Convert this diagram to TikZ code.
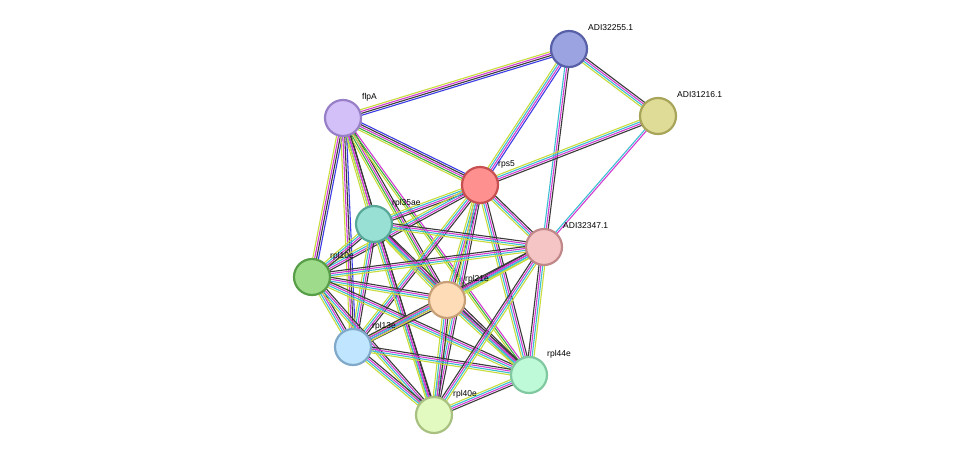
\documentclass[tikz,border=0pt]{standalone}
\usepackage{fontspec}
\setmainfont{Liberation Sans}
\usetikzlibrary{calc}
\definecolor{cTxt}{HTML}{C8DC3C}
\definecolor{cCoe}{HTML}{3A3A3A}
\definecolor{cExp}{HTML}{D23CD2}
\definecolor{cDb}{HTML}{3CBED2}
\definecolor{cNbr}{HTML}{3CB43C}
\definecolor{cOcc}{HTML}{3C3CE6}
\definecolor{f55}{HTML}{9BA4E0}\definecolor{d55}{HTML}{5860A8}
\definecolor{f16}{HTML}{DEDC96}\definecolor{d16}{HTML}{A8A45A}
\definecolor{fflp}{HTML}{D4C0F8}\definecolor{dflp}{HTML}{9880C8}
\definecolor{fs5}{HTML}{FF9090}\definecolor{ds5}{HTML}{C85050}
\definecolor{f35}{HTML}{98E0D4}\definecolor{d35}{HTML}{58A898}
\definecolor{f47}{HTML}{F5C5C5}\definecolor{d47}{HTML}{C08888}
\definecolor{f10}{HTML}{9EDC8C}\definecolor{d10}{HTML}{589E48}
\definecolor{f21}{HTML}{FFDCB8}\definecolor{d21}{HTML}{C8A078}
\definecolor{f13}{HTML}{C0E6FF}\definecolor{d13}{HTML}{80A8C8}
\definecolor{f44}{HTML}{BEFAD8}\definecolor{d44}{HTML}{80C8A0}
\definecolor{f40}{HTML}{E2FAC0}\definecolor{d40}{HTML}{A8C080}
\tikzset{
  prot/.style={circle, minimum size=36pt, inner sep=0, line width=2.2pt, fill=f#1, draw=d#1},
  lbl/.style={anchor=west, inner sep=0, font=\fontsize{8.5}{10}\selectfont},
}
% parallel coloured lines between two nodes
\newcommand\edgeset[4]{%
  \foreach \c [count=\i] in {#4} {%
    \pgfmathsetmacro\off{(\i-(#3+1)/2)*1.9}
    \draw[\c, line width=1.1pt] ($(#1)!\off pt!90:(#2)$) -- ($(#2)!\off pt!-90:(#1)$);
  }}
\begin{document}
\begin{tikzpicture}[x=1pt,y=-1pt]
\useasboundingbox[fill=white] (0,0) rectangle (975,461);
\coordinate (a55) at (569,49);
\coordinate (a16) at (658,116);
\coordinate (flp) at (343,118);
\coordinate (s5) at (480,185);
\coordinate (l35) at (374,224);
\coordinate (a47) at (544,247);
\coordinate (l10) at (312,277);
\coordinate (l21) at (447,300);
\coordinate (l13) at (353,347);
\coordinate (l44) at (529,375);
\coordinate (l40) at (434,415);
% edges
\edgeset{a55}{flp}{4}{cTxt,cExp,cCoe,cOcc}
\edgeset{a55}{s5}{4}{cTxt,cDb,cExp,cOcc}
\edgeset{a55}{a16}{4}{cTxt,cDb,cExp,cCoe}
\edgeset{a55}{a47}{3}{cDb,cExp,cCoe}
\edgeset{a16}{s5}{4}{cTxt,cDb,cExp,cCoe}
\edgeset{a16}{a47}{2}{cDb,cExp}
\edgeset{flp}{s5}{5}{cTxt,cNbr,cExp,cCoe,cOcc}
\edgeset{flp}{l35}{4}{cTxt,cDb,cExp,cCoe}
\edgeset{flp}{l10}{4}{cTxt,cExp,cCoe,cOcc}
\edgeset{flp}{l21}{4}{cTxt,cNbr,cExp,cCoe}
\edgeset{flp}{l13}{4}{cTxt,cExp,cCoe,cOcc}
\edgeset{flp}{l44}{3}{cTxt,cNbr,cExp}
\edgeset{flp}{l40}{3}{cTxt,cExp,cCoe}
\edgeset{s5}{a47}{4}{cTxt,cDb,cExp,cCoe}
\foreach \b in {l35,l10,l21,l13,l44,l40} {\edgeset{s5}{\b}{4}{cTxt,cDb,cExp,cCoe}}
\foreach \b in {a47,l10,l21,l13,l44,l40} {\edgeset{l35}{\b}{4}{cTxt,cDb,cExp,cCoe}}
\foreach \b in {a47,l21,l13,l44,l40} {\edgeset{l10}{\b}{4}{cTxt,cDb,cExp,cCoe}}
\foreach \b in {a47,l13,l44,l40} {\edgeset{l21}{\b}{4}{cTxt,cDb,cExp,cCoe}}
\foreach \b in {a47,l44,l40} {\edgeset{l13}{\b}{4}{cTxt,cDb,cExp,cCoe}}
\edgeset{l44}{a47}{4}{cTxt,cDb,cExp,cCoe}
\edgeset{l44}{l40}{4}{cTxt,cDb,cExp,cCoe}
\edgeset{l40}{a47}{4}{cTxt,cDb,cExp,cCoe}
% proteins
\node[prot=55] (n55) at (a55) {};
\node[prot=16] (n16) at (a16) {};
\node[prot=flp] (nflp) at (flp) {};
\node[prot=s5] (ns5) at (s5) {};
\node[prot=35] (n35) at (l35) {};
\node[prot=47] (n47) at (a47) {};
\node[prot=10] (n10) at (l10) {};
\node[prot=21] (n21) at (l21) {};
\node[prot=13] (n13) at (l13) {};
\node[prot=44] (n44) at (l44) {};
\node[prot=40] (n40) at (l40) {};
% labels
\node[lbl] (t55) at ($(a55)+(19,-21)$) {ADI32255.1};
\node[lbl] (t16) at ($(a16)+(19,-21)$) {ADI31216.1};
\node[lbl] (tflp) at ($(flp)+(19,-21)$) {flpA};
\node[lbl] (ts5) at ($(s5)+(18,-21)$) {rps5};
\node[lbl] (t35) at ($(l35)+(18,-21)$) {rpl35ae};
\node[lbl] (t47) at ($(a47)+(19,-21)$) {ADI32347.1};
\node[lbl] (t10) at ($(l10)+(18,-21)$) {rpl10e};
\node[lbl] (t21) at ($(l21)+(18,-21)$) {rpl21e};
\node[lbl] (t13) at ($(l13)+(19,-21)$) {rpl13e};
\node[lbl] (t44) at ($(l44)+(18,-21)$) {rpl44e};
\node[lbl] (t40) at ($(l40)+(19,-21)$) {rpl40e};
\end{tikzpicture}
\end{document}
